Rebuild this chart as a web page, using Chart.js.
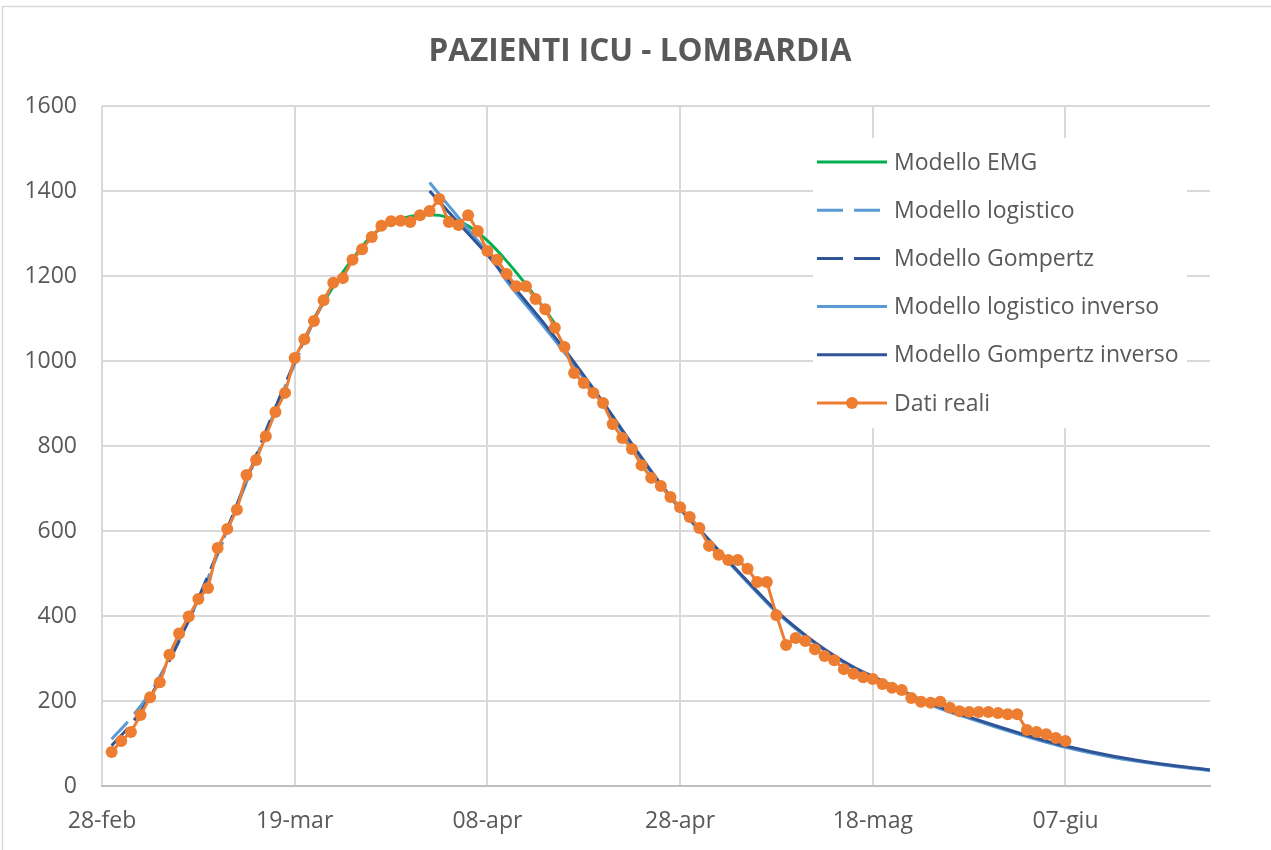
<!DOCTYPE html>
<html>
<head>
<meta charset="utf-8">
<script src="https://cdn.jsdelivr.net/npm/chart.js@4.4.1/dist/chart.umd.min.js"></script>
<style>
  html, body { margin: 0; padding: 0; background: #ffffff; }
  #wrap { width: 1271px; height: 850px; position: relative; }
</style>
</head>
<body>
<div id="wrap"><canvas id="c" width="1271" height="850"></canvas></div>
<script>
// ---- Data ----
const titleText = 'PAZIENTI ICU - LOMBARDIA';
const tickLabels = ['28-feb', '19-mar', '08-apr', '28-apr', '18-mag', '07-giu']; // every 20 days from 28-feb
const firstRealDay = 1; // 29-feb

const realValues = [
  80, 106, 127, 167, 209, 244, 309, 359, 399, 440,
  466, 560, 605, 650, 732, 767, 823, 880, 925, 1007,
  1051, 1094, 1143, 1184, 1195, 1238, 1263, 1292, 1318, 1329,
  1330, 1327, 1343, 1353, 1381, 1327, 1320, 1343, 1306, 1259,
  1238, 1205, 1176, 1176, 1146, 1122, 1078, 1033, 972, 948,
  925, 901, 852, 819, 793, 755, 725, 706, 680, 656,
  633, 607, 565, 544, 532, 532, 511, 480, 480, 402,
  332, 348, 341, 322, 306, 296, 275, 264, 256, 252,
  240, 231, 226, 207, 198, 196, 198, 184, 176, 174,
  174, 174, 172, 169, 169, 132, 127, 122, 113, 106
];

const emgDays   = [22, 24, 26, 28, 30, 32, 34, 36, 38, 40, 42, 44, 46, 47];
const emgValues = [1100, 1175, 1240, 1295, 1325, 1340, 1344, 1338, 1318, 1283, 1235, 1180, 1120, 1088];

const upDays        = [1, 3, 5, 7, 9, 11, 13, 15, 17, 19, 21, 23, 24];
const logistValues  = [110, 160, 220, 300, 390, 490, 600, 715, 830, 940, 1045, 1140, 1180];
const gompValues    = [95, 145, 210, 295, 390, 495, 605, 720, 835, 945, 1050, 1140, 1178];

const downDays      = [34, 36, 38, 40, 42, 44, 46, 48, 50, 52, 55, 58, 60, 62, 65, 68, 70, 73, 75, 78, 80, 83, 85, 88, 90, 93, 95, 98, 100, 105, 110, 115];
const logInvValues  = [1420, 1365, 1310, 1255, 1188, 1132, 1077, 1020, 960, 898, 801, 707, 651, 601, 527, 455, 409, 352, 319, 277, 255, 222, 200, 174, 159, 137, 123, 103, 91, 67, 50, 36];
const gompInvValues = [1400, 1350, 1300, 1250, 1195, 1140, 1085, 1027, 966, 903, 805, 710, 654, 604, 530, 458, 412, 355, 322, 280, 258, 225, 203, 177, 162, 140, 126, 106, 94, 70, 52, 38];

const C_GREEN = '#00b050';
const C_LIGHT = '#5b9bd5';
const C_DARK  = '#2f5597';
const C_ORANGE = '#ed7d31';
const C_TEXT = '#595959';
const FONT = "'Open Sans', 'Liberation Sans', sans-serif";

function pts(days, vals) { return days.map((d, i) => ({ x: d, y: vals[i] })); }
const realPts = realValues.map((v, i) => ({ x: firstRealDay + i, y: v }));

const legendItems = [
  { label: 'Modello EMG', color: C_GREEN, dash: [] },
  { label: 'Modello logistico', color: C_LIGHT, dash: [26, 11] },
  { label: 'Modello Gompertz', color: C_DARK, dash: [26, 11] },
  { label: 'Modello logistico inverso', color: C_LIGHT, dash: [] },
  { label: 'Modello Gompertz inverso', color: C_DARK, dash: [] },
  { label: 'Dati reali', color: C_ORANGE, dash: [], marker: true }
];

const framePlugin = {
  id: 'frame',
  beforeDraw(chart) {
    const ctx = chart.ctx;
    ctx.save();
    ctx.fillStyle = '#ffffff';
    ctx.fillRect(0, 0, chart.width, chart.height);
    ctx.strokeStyle = '#d9d9d9';
    ctx.lineWidth = 1.5;
    ctx.strokeRect(2.5, 6.5, chart.width + 10, chart.height + 10);
    ctx.fillStyle = C_TEXT;
    ctx.font = 'bold 31.5px ' + FONT;
    ctx.textAlign = 'center';
    ctx.textBaseline = 'middle';
    ctx.fillText(titleText, 640, 52);
    ctx.restore();
  }
};

const legendPlugin = {
  id: 'customLegend',
  afterDraw(chart) {
    const ctx = chart.ctx;
    const a = chart.chartArea;
    const boxL = a.right - 397, boxT = a.top + 32, boxW = 374, boxH = 290;
    ctx.save();
    ctx.fillStyle = '#ffffff';
    ctx.fillRect(boxL, boxT, boxW, boxH);
    ctx.font = '23px ' + FONT;
    ctx.textBaseline = 'middle';
    ctx.textAlign = 'left';
    legendItems.forEach((it, i) => {
      const y = a.top + 56 + i * 48.2;
      const x0 = boxL + 4, x1 = boxL + 74;
      ctx.strokeStyle = it.color;
      ctx.lineWidth = 3;
      ctx.setLineDash(it.dash);
      ctx.beginPath();
      ctx.moveTo(x0, y);
      ctx.lineTo(x1, y);
      ctx.stroke();
      ctx.setLineDash([]);
      if (it.marker) {
        ctx.fillStyle = it.color;
        ctx.beginPath();
        ctx.arc((x0 + x1) / 2, y, 6, 0, Math.PI * 2);
        ctx.fill();
      }
      ctx.fillStyle = C_TEXT;
      ctx.fillText(it.label, boxL + 81, y + 1);
    });
    ctx.restore();
  }
};

const modelLine = (label, data, color, dash, order) => ({
  label, data, borderColor: color, backgroundColor: color,
  borderWidth: 3, borderDash: dash, pointRadius: 0, pointHoverRadius: 0,
  cubicInterpolationMode: 'monotone', fill: false, order
});

new Chart(document.getElementById('c'), {
  type: 'line',
  data: {
    datasets: [
      modelLine('Modello EMG', pts(emgDays, emgValues), C_GREEN, [], 5),
      modelLine('Modello logistico', pts(upDays, logistValues), C_LIGHT, [24, 10], 4),
      modelLine('Modello Gompertz', pts(upDays, gompValues), C_DARK, [24, 10], 3),
      modelLine('Modello logistico inverso', pts(downDays, logInvValues), C_LIGHT, [], 2),
      modelLine('Modello Gompertz inverso', pts(downDays, gompInvValues), C_DARK, [], 1),
      {
        label: 'Dati reali', data: realPts, borderColor: C_ORANGE, backgroundColor: C_ORANGE,
        borderWidth: 3, pointRadius: 6, pointBorderWidth: 0, pointBackgroundColor: C_ORANGE,
        tension: 0, order: 0
      }
    ]
  },
  options: {
    responsive: false,
    animation: false,
    devicePixelRatio: 1,
    layout: { padding: { left: 0, right: 61, top: 106, bottom: 0 } },
    plugins: {
      legend: { display: false },
      tooltip: { enabled: false },
      title: { display: false }
    },
    scales: {
      x: {
        type: 'linear', min: 0, max: 115,
        afterBuildTicks(scale) {
          scale.ticks = tickLabels.map((_, i) => ({ value: i * 20 }));
        },
        afterFit(scale) { scale.height = 64; },
        ticks: {
          stepSize: 20, padding: 22, color: C_TEXT, maxRotation: 0, autoSkip: false,
          font: { family: FONT, size: 23 },
          callback: (v) => tickLabels[Math.round(v / 20)]
        },
        grid: { color: '#d9d9d9', lineWidth: 2, drawTicks: false },
        border: { display: true, color: '#bfbfbf', width: 2 }
      },
      y: {
        min: 0, max: 1600,
        afterFit(scale) { scale.width = 102; },
        ticks: {
          stepSize: 200, padding: 25, color: C_TEXT, font: { family: FONT, size: 23 },
          callback: (v) => String(v)
        },
        grid: { color: '#d9d9d9', lineWidth: 2, drawTicks: false },
        border: { display: false }
      }
    }
  },
  plugins: [framePlugin, legendPlugin]
});
</script>
</body>
</html>
